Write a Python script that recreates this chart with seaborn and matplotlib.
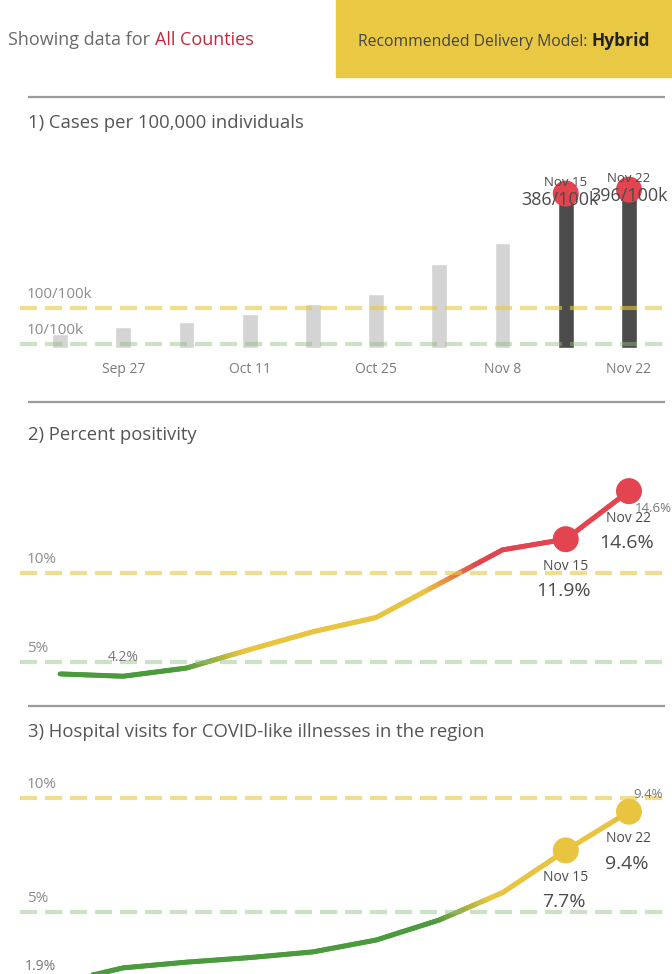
import numpy as np
import pandas as pd
import matplotlib
matplotlib.use("Agg")
import matplotlib.pyplot as plt
import seaborn as sns
from matplotlib.collections import LineCollection
from matplotlib.colors import LinearSegmentedColormap, Normalize
from matplotlib.patches import Rectangle

# ---------------- data ----------------
weeks = ["Sep 20", "Sep 27", "Oct 4", "Oct 11", "Oct 18", "Oct 25",
         "Nov 1", "Nov 8", "Nov 15", "Nov 22"]
tick_labels = ["Sep 27", "Oct 11", "Oct 25", "Nov 8", "Nov 22"]
cases = [35, 52, 65, 85, 110, 135, 210, 262, 386, 396]
positivity = [4.33, 4.2, 4.66, 5.7, 6.7, 7.5, 9.4, 11.3, 11.9, 14.6]
hospital = [1.9, 2.55, 2.8, 3.0, 3.25, 3.77, 4.65, 5.85, 7.7, 9.4]
cases_thresholds = [10, 100]
cases_threshold_labels = ["10/100k", "100/100k"]
pct_thresholds = [5, 10]
pct_threshold_labels = ["5%", "10%"]

titles = ["1) Cases per 100,000 individuals",
          "2) Percent positivity",
          "3) Hospital visits for COVID-like illnesses in the region"]

# ---------------- style ----------------
sns.set_theme(style="white")
plt.rcParams["font.family"] = ["Open Sans", "DejaVu Sans"]

W, H, DPI = 672, 974, 100
PT = 72.0 / DPI  # points per pixel

GREEN = "#4b9b3e"
YELLOW = "#e9c440"
RED = "#e2454f"
REF_Y = "#e9c941"
REF_G = "#8cbf82"
GRAY_TXT = "#8c8c8c"
DARK_TXT = "#4a4a4a"

fig = plt.figure(figsize=(W / DPI, H / DPI), dpi=DPI)
fig.patch.set_facecolor("white")

bg = fig.add_axes([0, 0, 1, 1])
bg.set_xlim(0, W)
bg.set_ylim(H, 0)
bg.axis("off")
bg.patch.set_alpha(0)


def axes_px(x0, y0, x1, y1):
    ax = fig.add_axes([x0 / W, 1 - y1 / H, (x1 - x0) / W, (y1 - y0) / H])
    ax.patch.set_alpha(0)
    for s in ax.spines.values():
        s.set_visible(False)
    ax.set_yticks([])
    return ax


XLIM = (-40 / 63.2, 9 + 39 / 63.2)

# ---------------- header ----------------
bg.add_patch(Rectangle((336, 0), 336, 77, color="#e9c843", zorder=0))
t1 = bg.text(8, 40, "Showing data for ", fontsize=13, color="#6a6a6a",
             va="center", ha="left")
bg.annotate("All Counties", xy=(1, 0), xycoords=t1, va="bottom", ha="left",
            fontsize=13, color="#c22a3e")
t2 = bg.text(358, 42, "Recommended Delivery Model: ", fontsize=11.3,
             color="#444444", va="center", ha="left")
bg.annotate("Hybrid", xy=(1, 0), xycoords=t2, va="bottom", ha="left",
            fontsize=12.5, fontweight="bold", color="#222222")

for ysep in [97, 402, 706]:
    bg.plot([28, 665], [ysep, ysep], color="#9a9a9a", lw=1.6,
            solid_capstyle="butt")

for ytitle, title in zip([123, 435, 732], titles):
    bg.text(28, ytitle, title, fontsize=13.3, color="#555555",
            va="center", ha="left")


def ref_lines(ax, thresholds, labels, colors):
    for thr, lbl, col, al in zip(thresholds, labels, colors, [0.45, 0.6]):
        ax.axhline(thr, color=col, alpha=al, lw=3.0, dashes=(4.1, 1.9),
                   zorder=5)
        ax.annotate(lbl, xy=(0, thr), xycoords=ax.get_yaxis_transform(),
                    xytext=(7 * PT, 13.5 * PT), textcoords="offset points",
                    fontsize=11, color=GRAY_TXT, ha="left", va="center")


# ---------------- panel 1: bars ----------------
ax1 = axes_px(20, 160, 668, 348)
df1 = pd.DataFrame({"week": weeks, "cases": cases})
bar_colors = ["#d4d4d4"] * 8 + ["#4b4b4b"] * 2
sns.barplot(data=df1, x="week", y="cases", hue="week", palette=bar_colors,
            legend=False, width=0.25, ax=ax1, saturation=1, zorder=2)
ax1.set_ylim(0, 188 / 0.4)
ax1.set_xlim(*XLIM)
ax1.set_xticks([weeks.index(t) for t in tick_labels])
ax1.set_xticklabels(tick_labels)
ax1.tick_params(axis="x", length=0, pad=10, labelsize=10, labelcolor="#7a7a7a")
ax1.set_xlabel("")
ax1.set_ylabel("")
ref_lines(ax1, cases_thresholds, cases_threshold_labels, [REF_G, REF_Y])

sns.scatterplot(x=[8, 9], y=cases[8:], s=350, color=RED, edgecolor="none",
                ax=ax1, zorder=6, clip_on=False, legend=False)
for i, dx in [(8, -6), (9, 0)]:
    ax1.annotate(weeks[i], xy=(i, cases[i]), xytext=(0, 11 * PT),
                 textcoords="offset points", ha="center", va="center",
                 fontsize=9.5, color=DARK_TXT, zorder=7)
    ax1.annotate(f"{cases[i]}/100k", xy=(i, cases[i]),
                 xytext=(dx * PT, -6 * PT), textcoords="offset points",
                 ha="center", va="center", fontsize=13, color=DARK_TXT,
                 zorder=7)

# ---------------- gradient lines ----------------
risk_cmap = LinearSegmentedColormap.from_list(
    "risk",
    [(0.0, GREEN), (4.6 / 16, GREEN), (5.6 / 16, YELLOW), (9.0 / 16, YELLOW),
     (10.6 / 16, RED), (1.0, RED)])
risk_norm = Normalize(vmin=0, vmax=16)


def gradient_line(ax, values):
    xs, ys = [], []
    for i in range(len(values) - 1):
        t = np.linspace(0, 1, 25, endpoint=False)
        xs.extend(i + t)
        ys.extend(values[i] + t * (values[i + 1] - values[i]))
    xs.append(len(values) - 1)
    ys.append(values[-1])
    pts = np.column_stack([xs, ys]).reshape(-1, 1, 2)
    segs = np.concatenate([pts[:-1], pts[1:]], axis=1)
    mids = (np.array(ys[:-1]) + np.array(ys[1:])) / 2
    lc = LineCollection(segs, colors=risk_cmap(risk_norm(mids)), linewidths=3.6,
                        capstyle="round", joinstyle="round", zorder=4)
    ax.add_collection(lc)


def end_labels(ax, values, color, small_dy):
    sns.scatterplot(x=[8, 9], y=values[8:], s=350, color=color,
                    edgecolor="none", ax=ax, zorder=6, clip_on=False,
                    legend=False)
    for i in (8, 9):
        ax.annotate(weeks[i], xy=(i, values[i]), xytext=(0, -27 * PT),
                    textcoords="offset points", ha="center", va="center",
                    fontsize=10, color=DARK_TXT, zorder=7)
        ax.annotate(f"{values[i]}%", xy=(i, values[i]), xytext=(-2 * PT, -52 * PT),
                    textcoords="offset points", ha="center", va="center",
                    fontsize=14, color=DARK_TXT, zorder=7)
    ax.annotate(f"{values[9]}%", xy=(9, values[9]),
                xytext=(small_dy[0] * PT, small_dy[1] * PT),
                textcoords="offset points", ha="center", va="center",
                fontsize=9.5, color="#777777", zorder=7)


# ---------------- panel 2 ----------------
ax2 = axes_px(20, 465, 668, 751)
ax2.set_xlim(*XLIM)
ax2.set_ylim(0, 286 / 17.8)
ax2.set_xticks([])
ref_lines(ax2, pct_thresholds, pct_threshold_labels, [REF_G, REF_Y])
gradient_line(ax2, positivity)
end_labels(ax2, positivity, RED, (24, -17))
ax2.annotate(f"{positivity[1]}%", xy=(1, positivity[1]), xytext=(0, 19 * PT),
             textcoords="offset points", ha="center", va="center",
             fontsize=10, color="#777777", zorder=7)

# ---------------- panel 3 ----------------
ax3 = axes_px(20, 760, 668, 1026)
ax3.set_xlim(*XLIM)
ax3.set_ylim(0, 266 / 22.8)
ax3.set_xticks([])
ref_lines(ax3, pct_thresholds, pct_threshold_labels, [REF_G, REF_Y])
gradient_line(ax3, hospital)
end_labels(ax3, hospital, YELLOW, (19, 17))
ax3.annotate(f"{hospital[0]}%", xy=(0, hospital[0]), xytext=(-20 * PT, 16 * PT),
             textcoords="offset points", ha="center", va="center",
             fontsize=10, color="#777777", zorder=7)

fig.savefig("out.png", dpi=DPI)
